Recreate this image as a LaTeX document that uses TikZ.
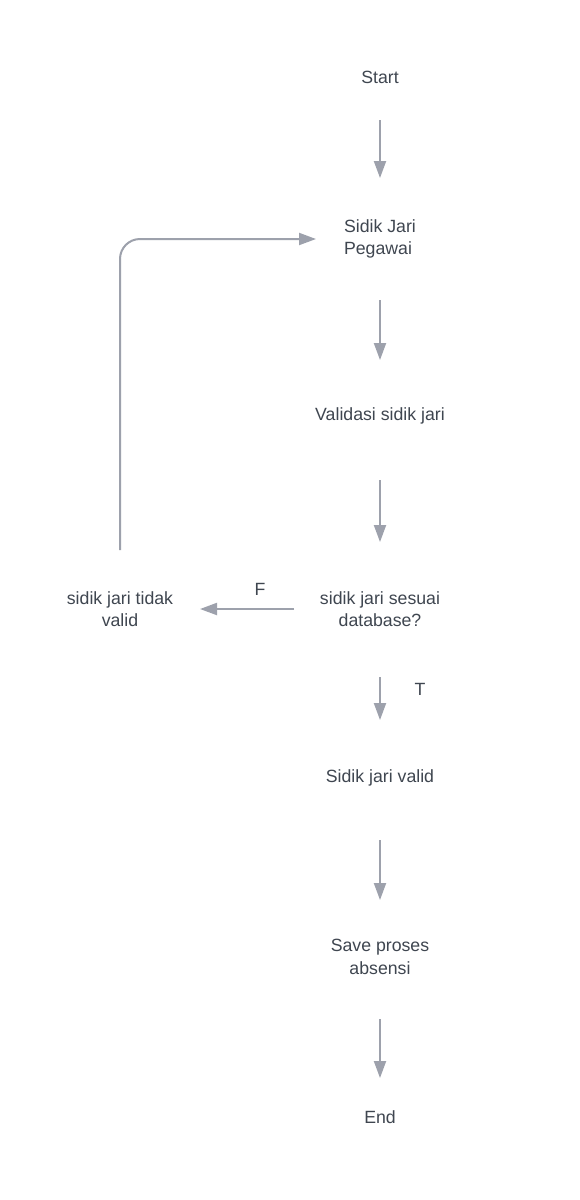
\documentclass[tikz,border=0pt]{standalone}
\usepackage{fontspec}
\setmainfont{Liberation Sans}
\usetikzlibrary{arrows.meta}
\definecolor{txt}{HTML}{3F4650}
\definecolor{ln}{HTML}{9DA1AC}
\begin{document}
\begin{tikzpicture}[x=1pt,y=-1pt,
  lbl/.style={text=txt,font=\fontsize{17.7}{22.5}\selectfont,inner sep=0pt,align=center},
  arr/.style={draw=ln,line width=2pt,-{Triangle[length=17pt,width=12pt]}}]
\useasboundingbox[fill=white] (0,0) rectangle (580,1200);
\node[lbl] (start) at (380,77) {Start};
\node[lbl,align=left] (sj) at (380,239) {Sidik Jari\\Pegawai};
\node[lbl] (val) at (380,416) {Validasi sidik jari};
\node[lbl] (dec) at (380,609) {sidik jari sesuai\\database?};
\node[lbl] (tidak) at (120,609) {sidik jari tidak\\valid};
\node[lbl] (ok) at (380,778) {Sidik jari valid};
\node[lbl] (save) at (380,957) {Save proses\\absensi};
\node[lbl] (end) at (380,1117) {End};
\node[lbl] (F) at (260,589) {F};
\node[lbl] (T) at (420,689) {T};
\draw[arr] ([yshift=-43pt]start.center) -- ([yshift=61pt]sj.center);
\draw[arr] ([yshift=-61pt]sj.center) -- ([yshift=56pt]val.center);
\draw[arr] ([yshift=-64pt]val.center) -- ([yshift=67pt]dec.center);
\draw[arr] ([yshift=-68pt]dec.center) -- ([yshift=58pt]ok.center);
\draw[arr] ([yshift=-62pt]ok.center) -- ([yshift=57pt]save.center);
\draw[arr] ([yshift=-62pt]save.center) -- ([yshift=39pt]end.center);
\draw[arr] ([xshift=-86pt]dec.center) -- ([xshift=80pt]tidak.center);
\draw[arr,rounded corners=20pt] ([yshift=59pt]tidak.center) -- (tidak.center |- sj.center) -- ([xshift=-64pt]sj.center);
\end{tikzpicture}
\end{document}
